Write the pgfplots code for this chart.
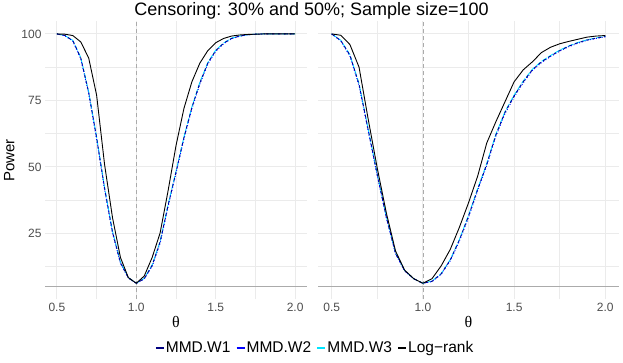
\documentclass[border=0pt]{standalone}
\usepackage{fontspec}
\setmainfont{Liberation Sans}
\newfontfamily\greekserif{Liberation Serif}
\usepackage{pgfplots}
\pgfplotsset{compat=1.18}
\usepackage{pgfplotstable}

\definecolor{gridmaj}{HTML}{EBEBEB}
\definecolor{ticktext}{HTML}{4D4D4D}
\definecolor{refline}{HTML}{ABABAB}
\definecolor{wone}{HTML}{000080}
\definecolor{wtwo}{HTML}{0000FF}
\definecolor{wthree}{HTML}{00E5FF}

% censoring 30%
\pgfplotstableread{
theta lr    w1    w2    w3
0.50  100   100   100   100
0.55  99.9  99.4  99.3  99.4
0.60  99.4  97.5  97.3  97.6
0.65  97.0  91.0  90.6  91.2
0.70  91.0  78.0  77.5  78.3
0.75  77.0  61.0  60.4  61.3
0.80  51.0  42.0  41.5  42.4
0.85  31.0  25.5  25.1  25.9
0.90  16.0  14.0  13.8  14.3
0.95  8.4   8.3   8.2   8.4
1.00  6.3   6.3   6.2   6.3
1.05  9.0   8.0   7.9   8.1
1.10  16.0  13.0  12.7  13.2
1.15  25.2  21.8  21.3  22.0
1.20  41.0  35.5  35.0  35.8
1.25  58.0  48.0  47.5  48.4
1.30  72.0  61.0  60.5  61.3
1.35  82.0  72.3  71.8  72.6
1.40  89.0  81.5  81.0  81.8
1.45  93.7  89.0  88.6  89.2
1.50  96.7  93.7  93.4  93.9
1.55  98.3  96.5  96.3  96.6
1.60  99.2  98.3  98.2  98.4
1.65  99.6  99.2  99.1  99.2
1.70  99.8  99.7  99.6  99.7
1.75  99.9  99.9  99.9  99.9
1.80  100   100   100   100
1.85  100   100   100   100
1.90  100   100   100   100
1.95  100   100   100   100
2.00  100   100   100   100
}\leftdata

% censoring 50%
\pgfplotstableread{
theta lr    w1    w2    w3
0.50  100   100   100   100
0.55  99.5  97.5  97.3  97.6
0.60  96.0  92.0  91.6  92.2
0.65  87.5  81.0  80.5  81.3
0.70  68.0  64.0  63.5  64.3
0.75  49.5  47.0  46.6  47.3
0.80  32.6  31.0  30.7  31.2
0.85  18.4  17.5  17.3  17.7
0.90  11.2  11.0  10.9  11.1
0.95  8.0   8.0   7.9   8.0
1.00  6.3   6.3   6.2   6.3
1.05  8.0   7.0   6.9   7.1
1.10  12.8  9.8   9.6   9.9
1.15  19.0  15.0  14.7  15.2
1.20  27.3  22.5  22.1  22.7
1.25  36.5  31.5  31.0  31.8
1.30  46.5  41.5  41.0  41.8
1.35  59.0  51.0  50.5  51.3
1.40  67.0  62.0  61.5  62.3
1.45  74.5  70.5  70.0  70.8
1.50  82.0  76.7  76.3  77.0
1.55  86.5  82.0  81.6  82.3
1.60  89.5  86.5  86.2  86.7
1.65  93.0  89.5  89.2  89.7
1.70  95.0  91.7  91.5  91.9
1.75  96.3  93.7  93.5  93.9
1.80  97.2  95.4  95.2  95.5
1.85  98.0  96.7  96.5  96.8
1.90  98.8  97.7  97.6  97.8
1.95  99.2  98.4  98.3  98.5
2.00  99.4  99.0  98.9  99.1
}\rightdata

\pgfplotsset{
  panel/.style={
    scale only axis, height=278pt, anchor=south west,
    xmin=0.425, xmax=2.075, ymin=0.25, ymax=104.75,
    axis line style={draw=none}, tick style={draw=none},
    xtick={0.5,1,1.5,2}, minor xtick={0.75,1.25,1.75},
    ytick={25,50,75,100}, minor ytick={12.5,37.5,62.5,87.5},
    grid=both,
    major grid style={gridmaj, line width=0.9pt},
    minor grid style={gridmaj, line width=0.45pt},
    tick label style={font=\fontsize{12}{12}\selectfont, text=ticktext},
    xticklabel style={/pgf/number format/.cd, fixed, fixed zerofill, precision=1},
    /pgf/number format/assume math mode=true,
    xlabel={{\greekserif θ}},
    xlabel style={font=\fontsize{16}{16}\selectfont, yshift=2pt},
    ylabel style={font=\fontsize{15}{15}\selectfont},
    legend image code/.code={\draw[#1, solid, line width=1.2pt] (0pt,0pt) -- (8pt,0pt);},
  },
  lr/.style={black, solid, line width=0.9pt},
  w1/.style={wone, dashed, line width=0.9pt},
  w2/.style={wtwo, dotted, line width=0.9pt},
  w3/.style={wthree, dash pattern=on 6pt off 1.5pt, line width=0.9pt},
}

\begin{document}
\begin{tikzpicture}
\useasboundingbox (0,0) rectangle (623pt,363pt);

\node[font=\fontsize{18}{18}\selectfont, anchor=base] at (311.5pt,347.5pt)
  {Censoring: 30\% and 50\%; Sample size=100};

\begin{axis}[panel, width=262pt, at={(45pt,63.7pt)},
    ylabel={Power},
    legend style={at={(1.0305,-0.175)}, anchor=center, legend columns=4,
      draw=none, fill=none, font=\fontsize{15.5}{15.5}\selectfont,
      nodes={inner sep=1.5pt},
      /tikz/every even column/.append style={column sep=4pt}},
  ]
\addplot[refline, line width=0.9pt, forget plot] coordinates {(0.425,5) (2.075,5)};
\addplot[refline, dash pattern=on 4pt off 3pt, line width=0.8pt, forget plot] coordinates {(1,0.25) (1,104.75)};
\addplot[w3, forget plot] table[x=theta, y=w3] {\leftdata};
\addplot[w1] table[x=theta, y=w1] {\leftdata};
\addplot[w2] table[x=theta, y=w2] {\leftdata};
\addlegendimage{w3}
\addplot[lr] table[x=theta, y=lr] {\leftdata};
\legend{MMD.W1, MMD.W2, MMD.W3, Log{\char"2212}rank}
\end{axis}

\begin{axis}[panel, width=301pt, at={(318pt,63.7pt)}, yticklabels={}]
\addplot[refline, line width=0.9pt, forget plot] coordinates {(0.425,5) (2.075,5)};
\addplot[refline, dash pattern=on 4pt off 3pt, line width=0.8pt, forget plot] coordinates {(1,0.25) (1,104.75)};
\addplot[w3] table[x=theta, y=w3] {\rightdata};
\addplot[w1] table[x=theta, y=w1] {\rightdata};
\addplot[w2] table[x=theta, y=w2] {\rightdata};
\addplot[lr] table[x=theta, y=lr] {\rightdata};
\end{axis}
\end{tikzpicture}
\end{document}
